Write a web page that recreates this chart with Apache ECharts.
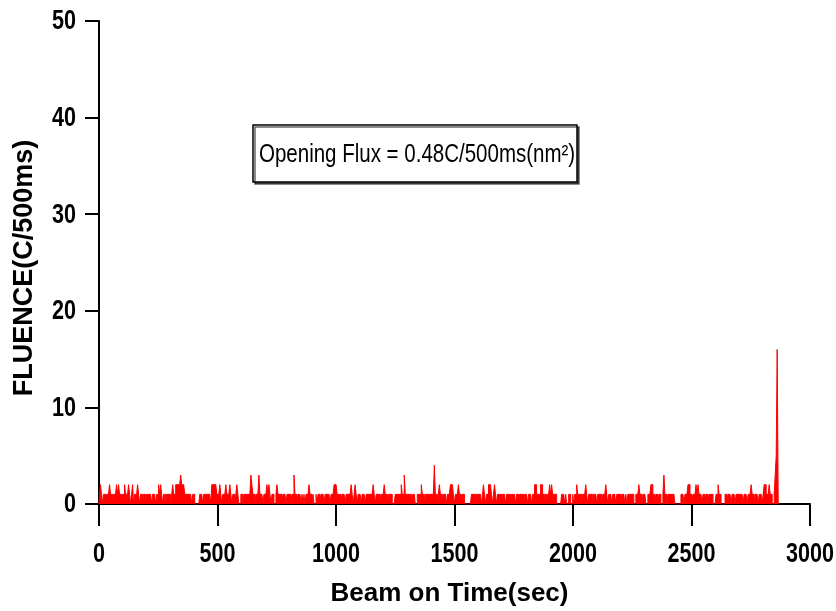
<!DOCTYPE html>
<html>
<head>
<meta charset="utf-8">
<script src="https://cdn.jsdelivr.net/npm/echarts@6/dist/echarts.min.js"></script>
<style>html,body{margin:0;padding:0;background:#fff;}#c{width:836px;height:611px;}</style>
</head>
<body>
<div id="c"></div>
<script>
const fluenceDigits = [
  "0121011011","1211011121","2110112111","2101201112","1011011011",
  "1110111011","2121011011","1101211222","2232221111","1110110000",
  "0111011111","1102222211","1210111211","1210110121","0011011111",
  "1132110111","3111011121","2101100121","1110111011","1101131101",
  "1101010111","2110100101","1011101111","1011122211","1101110111",
  "1121012101","1101110111","1111210111","1011121101","1110001111",
  "1121131111","1101110011","1121101111","1111141101","2110111011",
  "1222101112","1101100000","0011110111","1101210112","2210121011",
  "1101110111","1011010110","1111011101","1101122111","1221101101",
  "2121111000","0011101001","1001011211","1101112101","1110111011",
  "1101112101","1101110111","1011101011","1111001112","1101110011",
  "1221101101","1001311011","1111100000","0111011122","1101112121",
  "1101101101","1110001121","1000011011","1011101111","1110111011",
  "1211011101","1101221112","1100135g00"
].join("");
const sampleStep = 4.23;            // seconds between samples
const xTicks = [0, 500, 1000, 1500, 2000, 2500, 3000];
const yTicks = [0, 10, 20, 30, 40, 50];
const noteText = "Opening Flux = 0.48C/500ms(nm²)";
const xTitle = "Beam on Time(sec)";
const yTitle = "FLUENCE(C/500ms)";

const seriesData = [];
for (let i = 0; i < fluenceDigits.length; i++) {
  seriesData.push([i * sampleStep, parseInt(fluenceDigits[i], 36)]);
}

const chart = echarts.init(document.getElementById('c'), null, {renderer: 'canvas'});
const sans = "'Liberation Sans', Arial, sans-serif";
const squeeze = 0.8;

function staticGraphics() {
  return [
    {
      id: 'noteBox', type: 'rect',
      shape: {x: 253, y: 125, width: 324, height: 57},
      style: {fill: '#fff', stroke: '#000', lineWidth: 1.5, shadowColor: 'rgba(0,0,0,0.6)', shadowOffsetX: 2, shadowOffsetY: 2, shadowBlur: 0},
      z: 10
    },
    {
      id: 'noteText', type: 'text',
      x: 259, y: 155, scaleX: 0.82,
      style: {text: noteText, fontFamily: sans, fontSize: 25, fill: '#000', verticalAlign: 'middle', align: 'left'},
      z: 11
    },
    {
      id: 'yTitle', type: 'text',
      x: 25, y: 268, rotation: Math.PI / 2,
      style: {text: yTitle, fontFamily: sans, fontWeight: 'bold', fontSize: 27, fill: '#000', verticalAlign: 'middle', align: 'center'}
    }
  ];
}

chart.setOption({
  animation: false,
  backgroundColor: '#fff',
  grid: {left: 99, right: 26, top: 21, bottom: 107, containLabel: false, outerBoundsMode: 'none'},
  xAxis: {
    type: 'value',
    min: xTicks[0], max: xTicks[xTicks.length - 1], interval: 500,
    name: xTitle, nameLocation: 'middle', nameGap: 77,
    nameTextStyle: {fontFamily: sans, fontWeight: 'bold', fontSize: 26, color: '#000', padding: [0, 10, 0, 0]},
    axisLine: {show: true, onZero: false, lineStyle: {color: '#000', width: 2}},
    axisTick: {show: true, inside: false, length: 22, lineStyle: {color: '#000', width: 2}},
    axisLabel: {show: false},
    splitLine: {show: false}
  },
  yAxis: {
    type: 'value',
    min: yTicks[0], max: yTicks[yTicks.length - 1], interval: 10,
    axisLine: {show: true, onZero: false, lineStyle: {color: '#000', width: 2}},
    axisTick: {show: true, inside: false, length: 14, lineStyle: {color: '#000', width: 2}},
    axisLabel: {show: false},
    splitLine: {show: false}
  },
  series: [{
    type: 'line',
    data: seriesData,
    step: 'middle',
    showSymbol: false,
    symbol: 'none',
    sampling: false,
    lineStyle: {color: '#ff0000', width: 1},
    areaStyle: {color: '#ff0000', opacity: 1, origin: 'start'},
    z: 1
  }],
  graphic: staticGraphics()
});

// Condensed bold tick labels, positioned through the axes' own scales
const labelGraphics = [];
xTicks.forEach(function (v, i) {
  const px = chart.convertToPixel({xAxisIndex: 0}, v);
  labelGraphics.push({
    id: 'xl' + i, type: 'text', x: px, y: 555, scaleX: squeeze,
    style: {text: String(v), fontFamily: sans, fontWeight: 'bold', fontSize: 27, fill: '#000', align: 'center', verticalAlign: 'middle'}
  });
});
yTicks.forEach(function (v, i) {
  const py = chart.convertToPixel({yAxisIndex: 0}, v);
  labelGraphics.push({
    id: 'yl' + i, type: 'text', x: 76, y: py + 1, scaleX: squeeze,
    style: {text: String(v), fontFamily: sans, fontWeight: 'bold', fontSize: 27, fill: '#000', align: 'right', verticalAlign: 'middle'}
  });
});
chart.setOption({graphic: staticGraphics().concat(labelGraphics)});
</script>
</body>
</html>
